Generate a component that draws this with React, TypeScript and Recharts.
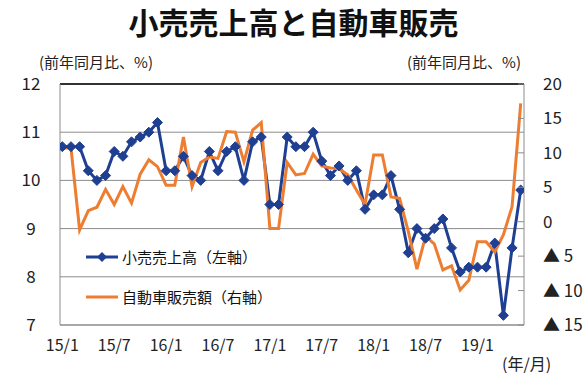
import React from "react";
import { LineChart, Line, XAxis, YAxis, CartesianGrid, ReferenceLine } from "recharts";

const FONT = "'Noto Sans CJK JP', 'Noto Sans', sans-serif";

// 2015/1 - 2019/6, monthly
const months = [
  "15/1", "15/2", "15/3", "15/4", "15/5", "15/6", "15/7", "15/8", "15/9", "15/10", "15/11", "15/12",
  "16/1", "16/2", "16/3", "16/4", "16/5", "16/6", "16/7", "16/8", "16/9", "16/10", "16/11", "16/12",
  "17/1", "17/2", "17/3", "17/4", "17/5", "17/6", "17/7", "17/8", "17/9", "17/10", "17/11", "17/12",
  "18/1", "18/2", "18/3", "18/4", "18/5", "18/6", "18/7", "18/8", "18/9", "18/10", "18/11", "18/12",
  "19/1", "19/2", "19/3", "19/4", "19/5", "19/6",
];

// 小売売上高 (left axis, %)
const retailSales = [
  10.7, 10.7, 10.7, 10.2, 10.0, 10.1, 10.6, 10.5, 10.8, 10.9, 11.0, 11.2,
  10.2, 10.2, 10.5, 10.1, 10.0, 10.6, 10.2, 10.6, 10.7, 10.0, 10.8, 10.9,
  9.5, 9.5, 10.9, 10.7, 10.7, 11.0, 10.4, 10.1, 10.3, 10.0, 10.2, 9.4,
  9.7, 9.7, 10.1, 9.4, 8.5, 9.0, 8.8, 9.0, 9.2, 8.6, 8.1, 8.2,
  8.2, 8.2, 8.7, 7.2, 8.6, 9.8,
];

// 自動車販売額 (right axis, %)
const autoSales = [
  10.7, 10.7, -1.2, 1.6, 2.1, 4.7, 2.5, 5.1, 2.7, 6.9, 9.0, 8.0,
  5.3, 5.3, 12.3, 5.1, 8.6, 9.4, 9.2, 13.1, 13.0, 8.7, 13.3, 14.4,
  -1.0, -1.0, 8.6, 6.8, 7.0, 9.8, 8.1, 7.8, 7.7, 6.8, 4.6, 2.5,
  9.7, 9.7, 3.6, 3.4, -1.4, -6.9, -2.1, -3.2, -7.0, -6.4, -9.9, -8.5,
  -2.9, -2.9, -4.4, -1.9, 2.2, 17.2,
];

const xLabels = ["15/1", "15/7", "16/1", "16/7", "17/1", "17/7", "18/1", "18/7", "19/1"];
const leftTicks = [7, 8, 9, 10, 11, 12];
const rightTicks = [-15, -10, -5, 0, 5, 10, 15, 20];

const data = months.map((m, i) => ({ i, month: m, retail: retailSales[i], auto: autoSales[i] }));
const labelIdx = xLabels.map((l) => months.indexOf(l));
const boundaryIdx = labelIdx.slice(1).map((v) => v - 0.5);

const BLUE = "#1F3F92";
const ORANGE = "#ED7D31";
const GRID = "#8C8C8C";

const Diamond = (props: any) => {
  const { cx, cy } = props;
  if (cx == null || cy == null) return null;
  const r = 5;
  return <path d={`M${cx},${cy - r}L${cx + r},${cy}L${cx},${cy + r}L${cx - r},${cy}Z`} fill={BLUE} stroke={BLUE} />;
};

const LeftTick = ({ x, y, payload }: any) => (
  <text x={x - 29} y={y} dy={6} textAnchor="middle" fontSize={17} fontFamily={FONT} fill="#222">
    {payload.value}
  </text>
);

const RightTick = ({ x, y, payload }: any) => {
  const v = payload.value;
  const label = v < 0 ? `▲ ${Math.abs(v)}` : `${v}`;
  return (
    <g>
      <line x1={x - 6} x2={x} y1={y} y2={y} stroke={GRID} />
      <text x={x + 19} y={y} dy={6} textAnchor="start" fontSize={17} fontFamily={FONT} fill="#222">
        {label}
      </text>
    </g>
  );
};

const BottomTick = ({ x, y, payload }: any) => (
  <text x={x} y={y + 26} textAnchor="middle" fontSize={16} fontFamily={FONT} fill="#222">
    {months[payload.value]}
  </text>
);

const BoundaryTick = ({ x, y }: any) => <line x1={x} x2={x} y1={y} y2={y - 8} stroke={GRID} />;

const App: React.FC = () => {
  return (
    <div style={{ position: "absolute", left: 0, top: 0, width: 587, height: 374, background: "#fff", fontFamily: FONT }}>
      <div style={{ position: "absolute", left: 0, top: 3, width: 587, textAlign: "center", fontSize: 30, fontWeight: 700, lineHeight: "36px", color: "#111" }}>
        小売売上高と自動車販売
      </div>
      <div style={{ position: "absolute", left: 39, top: 52, fontSize: 15, lineHeight: "20px", color: "#222" }}>(前年同月比、%)</div>
      <div style={{ position: "absolute", left: 407, top: 52, fontSize: 15, lineHeight: "20px", color: "#222" }}>(前年同月比、%)</div>

      <LineChart width={587} height={374} data={data} margin={{ top: 84, right: 0, bottom: 0, left: 0 }}>
        <CartesianGrid yAxisId="left" vertical={false} stroke={GRID} />
        <XAxis
          xAxisId="marks"
          dataKey="i"
          type="number"
          domain={[-0.27, 53.38]}
          allowDataOverflow
          ticks={boundaryIdx}
          height={0}
          tickSize={0}
          tickMargin={0}
          axisLine={false}
          tick={<BoundaryTick />}
        />
        <XAxis
          dataKey="i"
          type="number"
          domain={[-0.27, 53.38]}
          allowDataOverflow
          ticks={labelIdx}
          height={49}
          tickSize={0}
          tickMargin={0}
          axisLine={{ stroke: GRID }}
          tickLine={false}
          tick={<BottomTick />}
          interval={0}
        />
        <YAxis
          yAxisId="left"
          domain={[7, 12]}
          ticks={leftTicks}
          width={60}
          tickSize={0}
          tickMargin={0}
          tickLine={false}
          axisLine={{ stroke: GRID }}
          tick={<LeftTick />}
          interval={0}
        />
        <YAxis
          yAxisId="right"
          orientation="right"
          domain={[-15, 20]}
          ticks={rightTicks}
          width={63}
          tickSize={0}
          tickMargin={0}
          tickLine={false}
          axisLine={{ stroke: GRID }}
          tick={<RightTick />}
          interval={0}
        />
        <ReferenceLine yAxisId="left" y={12} stroke="#000" strokeWidth={1.5} />
        <Line
          yAxisId="left"
          dataKey="retail"
          stroke={BLUE}
          strokeWidth={3}
          dot={<Diamond />}
          activeDot={false}
          isAnimationActive={false}
        />
        <Line
          yAxisId="right"
          dataKey="auto"
          stroke={ORANGE}
          strokeWidth={3}
          dot={false}
          activeDot={false}
          isAnimationActive={false}
        />
      </LineChart>

      <div style={{ position: "absolute", left: 84, top: 245, fontSize: 15, lineHeight: "24px", color: "#111", display: "flex", alignItems: "center" }}>
        <svg width={36} height={24}>
          <line x1={2} x2={34} y1={12} y2={12} stroke={BLUE} strokeWidth={3} />
          <path d="M18,7L23,12L18,17L13,12Z" fill={BLUE} />
        </svg>
        <span style={{ marginLeft: 2 }}>小売売上高（左軸）</span>
      </div>
      <div style={{ position: "absolute", left: 84, top: 285, fontSize: 15, lineHeight: "24px", color: "#111", display: "flex", alignItems: "center" }}>
        <svg width={36} height={24}>
          <line x1={2} x2={34} y1={12} y2={12} stroke={ORANGE} strokeWidth={3} />
        </svg>
        <span style={{ marginLeft: 2 }}>自動車販売額（右軸）</span>
      </div>
      <div style={{ position: "absolute", left: 502, top: 353, fontSize: 16, lineHeight: "20px", color: "#222" }}>(年/月)</div>
    </div>
  );
};

export default App;
